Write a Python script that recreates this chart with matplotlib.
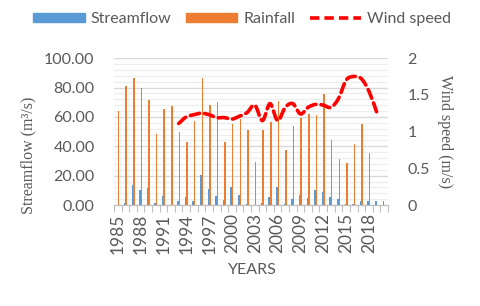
import numpy as np
import matplotlib
matplotlib.use("Agg")
import matplotlib.pyplot as plt
from matplotlib.path import Path
from matplotlib.patches import PathPatch, Patch
from matplotlib.lines import Line2D

years = list(range(1985, 2021))
streamflow = [0, 1.4, 13.9, 10.0, 11.4, 1.6, 6.2, 0, 2.9, 5.7, 2.9, 20.5,
              11.0, 6.2, 3.6, 12.1, 6.8, 0.9, 0, 1.6, 5.7, 12.1, 0.9, 4.3,
              6.8, 4.8, 10.3, 8.6, 5.5, 4.3, 0.7, 0.7, 2.7, 2.7, 2.7, 2.5]
rainfall = [64.1, 81.2, 86.7, 79.9, 71.4, 48.6, 65.5, 67.5, 50.0, 42.7, 57.0, 86.7,
            68.0, 69.9, 42.7, 55.0, 58.4, 51.1, 29.0, 51.1, 56.4, 70.8, 37.4, 53.9,
            59.3, 62.1, 61.2, 75.5, 44.0, 31.0, 28.5, 41.5, 55.2, 35.1, 0, 0]
wind_years = list(range(1993, 2020))
wind = [1.11, 1.20, 1.23, 1.25, 1.23, 1.19, 1.19, 1.17, 1.21, 1.26, 1.36, 1.15,
        1.38, 1.15, 1.33, 1.38, 1.24, 1.33, 1.37, 1.36, 1.33, 1.45, 1.70, 1.75,
        1.72, 1.55, 1.27]
left_ticks = [0, 20, 40, 60, 80, 100]
right_ticks = [0, 0.5, 1, 1.5, 2]

BLUE = "#5B9BD5"
ORANGE = "#ED7D31"
RED = "#FF0000"
GREY = "#595959"
SANS = "Lato"
SERIF = "Liberation Serif"
DASH = (0, (2.6, 1.4))

x = np.arange(len(years))

fig = plt.figure(figsize=(4.8, 3.06), dpi=100)
ax = fig.add_axes([0.2375, 0.330, 0.5708, 0.480])
ax2 = ax.twinx()

ax.bar(x - 0.1, streamflow, width=0.2, color=BLUE, zorder=3)
ax.bar(x + 0.1, rainfall, width=0.2, color=ORANGE, zorder=3)

# smoothed line like excel (bezier through the points)
wx = np.array([years.index(y) for y in wind_years], dtype=float)
wy = np.array(wind)
verts = [(wx[0], wy[0])]
codes = [Path.MOVETO]
n = len(wx)
for i in range(n - 1):
    p0 = np.array([wx[max(i - 1, 0)], wy[max(i - 1, 0)]])
    p1 = np.array([wx[i], wy[i]])
    p2 = np.array([wx[i + 1], wy[i + 1]])
    p3 = np.array([wx[min(i + 2, n - 1)], wy[min(i + 2, n - 1)]])
    c1 = p1 + (p2 - p0) / 6
    c2 = p2 - (p3 - p1) / 6
    verts += [tuple(c1), tuple(c2), tuple(p2)]
    codes += [Path.CURVE4] * 3
ax2.add_patch(PathPatch(Path(verts, codes), fill=False, edgecolor=RED,
                        lw=2.6, linestyle=DASH, capstyle="round", zorder=4))

ax.set_xlim(-0.5, len(years) - 0.5)
ax.set_ylim(0, 100)
ax2.set_ylim(0, 2)

ax.set_yticks(left_ticks)
ax.set_yticklabels([f"{v:.2f}" for v in left_ticks])
ax.set_yticks(np.arange(0, 101, 4), minor=True)
ax.grid(axis="y", which="major", color="#D9D9D9", lw=1.0, zorder=0)
ax.grid(axis="y", which="minor", color="#EDEDED", lw=0.9, zorder=0)
ax.set_axisbelow(True)

ax2.set_yticks(right_ticks)
ax2.set_yticklabels([f"{v:g}" for v in right_ticks])

ax.set_xticks(x[::3])
ax.set_xticklabels([str(y) for y in years[::3]], rotation=90)
ax.set_xticks(np.arange(len(years) + 1) - 0.5, minor=True)
ax.tick_params(axis="x", which="major", length=0, pad=6)
ax.tick_params(axis="x", which="minor", length=5, color="#BFBFBF", width=0.8)
ax.tick_params(axis="y", which="both", length=0, pad=14)
ax2.tick_params(axis="y", length=0, pad=14)

for lab in ax.get_yticklabels() + ax2.get_yticklabels():
    lab.set_fontfamily(SANS)
    lab.set_fontsize(11.5)
    lab.set_color(GREY)
for lab in ax.get_xticklabels():
    lab.set_fontfamily(SANS)
    lab.set_fontsize(12.5)
    lab.set_color(GREY)

for a in (ax, ax2):
    for s in ("top", "left", "right"):
        a.spines[s].set_visible(False)
    a.spines["bottom"].set_color("#BFBFBF")

fig.text(0.060, 1 - 155 / 306, "Streamflow (m³/s)", rotation=90, ha="center", va="center",
         family=SERIF, fontsize=11.5, color=GREY)
fig.text(0.928, 1 - 132 / 306, "Wind speed (m/s)", rotation=270, ha="center", va="center",
         family=SERIF, fontsize=11.5, color=GREY)
fig.text(252 / 480, 1 - 270 / 306, "YEARS", ha="center", va="center",
         family=SANS, fontsize=11.5, color=GREY)

handles = [Patch(color=BLUE), Patch(color=ORANGE),
           Line2D([], [], color=RED, lw=2.6, linestyle=DASH)]
fig.legend(handles, ["Streamflow", "Rainfall", "Wind speed"], loc="center",
           bbox_to_anchor=(0.505, 1 - 19 / 306), ncol=3, frameon=False,
           prop={"family": SANS, "size": 11.5}, labelcolor=GREY,
           handlelength=3.2, handleheight=0.45, handletextpad=0.4, columnspacing=0.9)

fig.savefig("out.png", dpi=100)
